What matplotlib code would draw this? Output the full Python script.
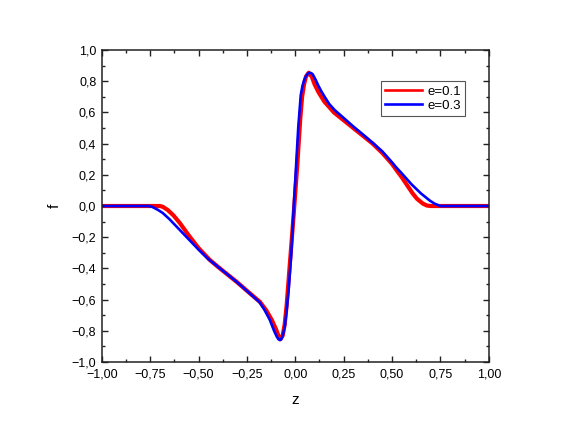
import matplotlib
matplotlib.use("Agg")
import matplotlib.pyplot as plt
from matplotlib.ticker import FuncFormatter, MultipleLocator

# e = 0.1 (red)
z_e1 = [-1.00, -0.80, -0.70, -0.685, -0.66, -0.63, -0.597, -0.55, -0.50, -0.442,
        -0.40, -0.35, -0.30, -0.235, -0.183, -0.15, -0.122, -0.10, -0.088, -0.077,
        -0.065, -0.055, -0.045, -0.03, -0.01, 0.01, 0.025, 0.035, 0.045, 0.055,
        0.069, 0.085, 0.10, 0.12, 0.15, 0.20, 0.25, 0.30, 0.35, 0.40,
        0.45, 0.50, 0.52, 0.55, 0.607, 0.63, 0.66, 0.68, 0.70, 0.80, 1.00]
f_e1 = [0.0, 0.0, 0.0, -0.005, -0.025, -0.06, -0.109, -0.19, -0.27, -0.346,
        -0.39, -0.44, -0.49, -0.56, -0.615, -0.67, -0.73, -0.79, -0.83, -0.855,
        -0.83, -0.76, -0.64, -0.40, -0.08, 0.26, 0.55, 0.70, 0.78, 0.83,
        0.855, 0.83, 0.78, 0.73, 0.67, 0.60, 0.55, 0.50, 0.45, 0.40,
        0.34, 0.27, 0.235, 0.185, 0.08, 0.045, 0.015, 0.003, 0.0, 0.0, 0.0]

# e = 0.3 (blue)
z_e3 = [-1.00, -0.80, -0.76, -0.74, -0.71, -0.685, -0.65, -0.60, -0.55, -0.50,
        -0.45, -0.40, -0.35, -0.30, -0.25, -0.20, -0.183, -0.16, -0.132, -0.11,
        -0.095, -0.087, -0.08, -0.072, -0.065, -0.054, -0.045, -0.034, -0.02, -0.008,
        0.0, 0.015, 0.028, 0.036, 0.045, 0.055, 0.065, 0.075, 0.083, 0.09,
        0.105, 0.118, 0.135, 0.152, 0.175, 0.204, 0.25, 0.30, 0.359, 0.40,
        0.45, 0.50, 0.52, 0.55, 0.60, 0.65, 0.695, 0.72, 0.75, 0.80, 1.00]
f_e3 = [0.0, 0.0, 0.0, -0.005, -0.025, -0.045, -0.085, -0.15, -0.215, -0.28,
        -0.34, -0.39, -0.44, -0.49, -0.545, -0.60, -0.62, -0.665, -0.73, -0.80,
        -0.84, -0.855, -0.86, -0.853, -0.83, -0.77, -0.67, -0.53, -0.29, 0.0,
        0.17, 0.50, 0.71, 0.765, 0.805, 0.833, 0.85, 0.855, 0.852, 0.845,
        0.81, 0.775, 0.735, 0.70, 0.655, 0.615, 0.565, 0.51, 0.449, 0.405,
        0.35, 0.28, 0.25, 0.21, 0.14, 0.08, 0.035, 0.015, 0.0, 0.0, 0.0]

labels = ["e=0.1", "e=0.3"]


def comma_fmt(decimals):
    def fmt(v, pos):
        s = f"{v:.{decimals}f}".replace(".", ",")
        return s.replace("-", "\u2212")
    return FuncFormatter(fmt)


plt.rcParams["font.family"] = ["Liberation Sans", "DejaVu Sans"]

fig = plt.figure(figsize=(5.69, 4.36), dpi=100)
ax = fig.add_axes([0.179, 0.170, 0.680, 0.715])

ax.plot(z_e1, f_e1, color="#ff0000", lw=3.0, label=labels[0])
ax.plot(z_e3, f_e3, color="#0000ff", lw=1.9, label=labels[1])

ax.set_xlim(-1, 1)
ax.set_ylim(-1, 1)
ax.xaxis.set_major_locator(MultipleLocator(0.25))
ax.xaxis.set_minor_locator(MultipleLocator(0.125))
ax.yaxis.set_major_locator(MultipleLocator(0.2))
ax.yaxis.set_minor_locator(MultipleLocator(0.1))
ax.xaxis.set_major_formatter(comma_fmt(2))
ax.yaxis.set_major_formatter(comma_fmt(1))

ax.tick_params(which="both", direction="in", top=True, right=True,
               labelsize=9, color="#222222", width=1.0)
ax.tick_params(which="major", length=4.5)
ax.tick_params(which="minor", length=2.5)
ax.tick_params(axis="x", which="major", pad=5)
ax.tick_params(axis="y", which="major", pad=4)
for sp in ax.spines.values():
    sp.set_linewidth(1.1)
    sp.set_color("#222222")

ax.set_xlabel("z", fontsize=11, labelpad=9)
ax.set_ylabel("f", fontsize=11, labelpad=7)

leg = ax.legend(loc="upper right", bbox_to_anchor=(0.938, 0.90), fontsize=9.5,
                handlelength=2.8, handletextpad=0.4, borderpad=0.3,
                labelspacing=0.15, borderaxespad=0, fancybox=False, framealpha=1)
leg.get_frame().set_edgecolor("#555555")
leg.get_frame().set_linewidth(0.8)
for line in leg.get_lines():
    line.set_linewidth(1.9)

fig.savefig("out.png", dpi=100)
